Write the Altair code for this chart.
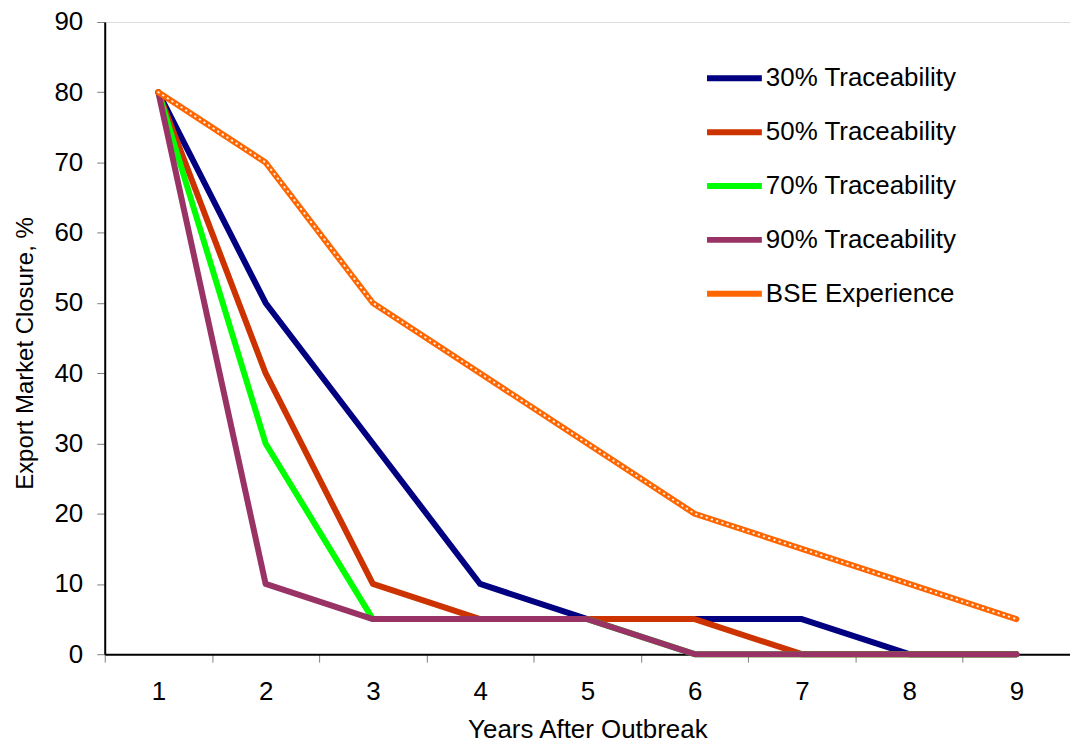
import altair as alt
import pandas as pd

years = [1, 2, 3, 4, 5, 6, 7, 8, 9]
series_names = ["30% Traceability", "50% Traceability", "70% Traceability",
                "90% Traceability", "BSE Experience"]
t30 = [80, 50, 30, 10, 5, 5, 5, 0, 0]
t50 = [80, 40, 10, 5, 5, 5, 0, 0, 0]
t70 = [80, 30, 5, 5, 5, 0, 0, 0, 0]
t90 = [80, 10, 5, 5, 5, 0, 0, 0, 0]
bse = [80, 70, 50, 40, 30, 20, 15, 10, 5]
colors = ["#000080", "#CC3300", "#00FF00", "#993366", "#FF6600"]
widths = [6, 6, 6, 6, 7]

rows = []
for i, (name, vals) in enumerate(zip(series_names, [t30, t50, t70, t90, bse])):
    for y, v in zip(years, vals):
        rows.append({"year": y, "value": v, "series": name, "order": i})
df = pd.DataFrame(rows)

FONT = "Liberation Sans"
FS = 26

x_enc = alt.X("year:O",
              scale=alt.Scale(type="band", paddingInner=0, paddingOuter=0),
              axis=alt.Axis(title="Years After Outbreak", labelAngle=0,
                            tickBand="extent", tickSize=8, tickColor="#808080",
                            domainColor="#000000", domainWidth=2,
                            labelPadding=16, titlePadding=13,
                            labelFontSize=FS, titleFontSize=FS,
                            labelFont=FONT, titleFont=FONT,
                            titleFontWeight="normal", labelColor="#000",
                            titleColor="#000"))
y_enc = alt.Y("value:Q",
              scale=alt.Scale(domain=[0, 90], nice=False),
              axis=alt.Axis(title="Export Market Closure, %",
                            values=list(range(0, 91, 10)), grid=False,
                            tickSize=8, tickColor="#808080",
                            domainColor="#000000", domainWidth=2,
                            labelPadding=14, titlePadding=17,
                            titleY=332,
                            labelFontSize=FS, titleFontSize=24,
                            labelFont=FONT, titleFont=FONT,
                            titleFontWeight="normal", labelColor="#000",
                            titleColor="#000"))

base = alt.Chart(df)
lines = base.mark_line(strokeJoin="round", strokeCap="round").encode(
    x=x_enc, y=y_enc,
    color=alt.Color("series:N",
                    scale=alt.Scale(domain=series_names, range=colors),
                    sort=series_names,
                    legend=alt.Legend(title=None, orient="none",
                                      legendX=601, legendY=26,
                                      symbolType="stroke", symbolSize=3025,
                                      symbolStrokeWidth=6, rowPadding=10,
                                      labelFontSize=FS, labelFont=FONT,
                                      labelLimit=0,
                                      labelColor="#000", labelOffset=1)),
    strokeWidth=alt.StrokeWidth("series:N",
                                scale=alt.Scale(domain=series_names, range=widths),
                                legend=None),
    order=alt.Order("order:Q"),
    detail="series:N",
)
dots = alt.Chart(df[df["series"] == "BSE Experience"]).mark_line(
    strokeWidth=2, color="#FFFFFF", strokeDash=[0.5, 5], strokeCap="round",
    opacity=0.9
).encode(x=alt.X("year:O"), y=alt.Y("value:Q"))

chart = alt.layer(lines, dots).properties(
    width=968, height=634,
    autosize=alt.AutoSizeParams(type="none"),
    padding={"left": 97, "top": 13, "right": 0, "bottom": 87},
).configure_view(stroke="#9a9a9a", strokeWidth=1.5).configure(background="white")

chart.save("out.html", embed_options={"renderer": "svg", "actions": False})
